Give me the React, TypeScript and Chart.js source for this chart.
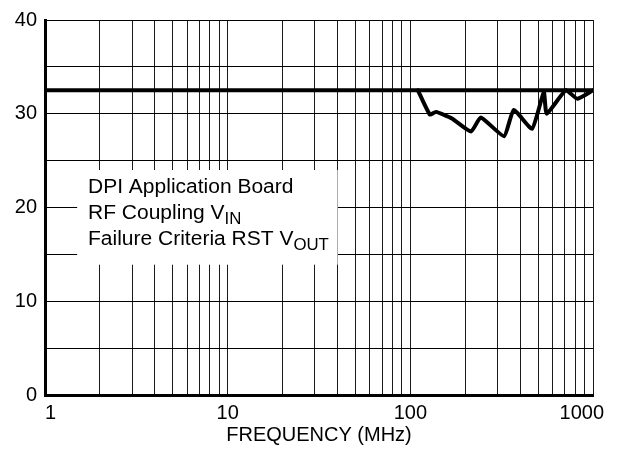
import React, { useEffect, useRef } from 'react';
import { Chart, registerables } from 'chart.js';

Chart.register(...registerables);

// ---- data ----
const limitFreqs = [1, 1000];
const limitLevels = [32.5, 32.5];

const curveFreqs = [110, 128, 138, 169, 215, 243, 326, 368, 464, 538, 558, 710, 820, 1000];
const curveLevels = [32.5, 29.9, 30.2, 29.5, 28.1, 29.6, 27.6, 30.4, 28.4, 32.3, 30.0, 32.5, 31.6, 32.5];

const xGridValues = [
  1, 2, 3, 4, 5, 6, 7, 8, 9,
  10, 20, 30, 40, 50, 60, 70, 80, 90,
  100, 200, 300, 400, 500, 600, 700, 800, 900,
  1000,
];
const xTickLabels = ['1', '10', '100', '1000'];
const yTickLabels = ['0', '10', '20', '30', '40'];
const xTitle = 'FREQUENCY (MHz)';

const noteMain = ['DPI Application Board', 'RF Coupling V', 'Failure Criteria RST V'];
const noteSubs = ['', 'IN', 'OUT'];

const FONT = '"Liberation Sans", Arial, sans-serif';

const noteBoxPlugin = {
  id: 'noteBox',
  beforeDatasetsDraw(chart: any) {
    const { ctx, scales } = chart;
    const x = scales.x;
    const y = scales.y;
    const left = x.getPixelForValue(1.5);
    const right = x.getPixelForValue(40);
    const top = y.getPixelForValue(24.0);
    const bottom = y.getPixelForValue(13.9);
    ctx.save();
    ctx.fillStyle = '#ffffff';
    ctx.fillRect(left, top, right - left, bottom - top);
    ctx.fillStyle = '#000000';
    ctx.textBaseline = 'alphabetic';
    ctx.textAlign = 'left';
    const textX = x.getPixelForValue(1.72);
    const baseline0 = y.getPixelForValue(21.6);
    const lineGap = 26;
    const stretch = 1.05;
    noteMain.forEach((t, i) => {
      const by = baseline0 + i * lineGap;
      ctx.save();
      ctx.translate(textX, by);
      ctx.scale(stretch, 1);
      ctx.font = `20px ${FONT}`;
      ctx.fillText(t, 0, 0);
      const w = ctx.measureText(t).width;
      if (noteSubs[i]) {
        ctx.font = `16px ${FONT}`;
        ctx.fillText(noteSubs[i], w, 5);
      }
      ctx.restore();
    });
    ctx.restore();
  },
};

const xLabelPlugin = {
  id: 'xLabels',
  afterDraw(chart: any) {
    const { ctx, scales, width } = chart;
    const x = scales.x;
    ctx.save();
    ctx.font = `20px ${FONT}`;
    ctx.fillStyle = '#000000';
    ctx.textBaseline = 'alphabetic';
    ctx.textAlign = 'left';
    const minLeft = chart.chartArea.left;
    const maxRight = width - 15;
    xTickLabels.forEach((lbl) => {
      const px = x.getPixelForValue(Number(lbl));
      const w = ctx.measureText(lbl).width;
      let lx = px - w / 2;
      if (lx < minLeft) lx = minLeft;
      if (lx + w > maxRight) lx = maxRight - w;
      ctx.fillText(lbl, lx, x.top + 24);
    });
    ctx.restore();
  },
};

export default function App() {
  const canvasRef = useRef<HTMLCanvasElement | null>(null);

  useEffect(() => {
    if (!canvasRef.current) return;
    const chart = new Chart(canvasRef.current, {
      type: 'line',
      data: {
        datasets: [
          {
            label: 'Limit',
            data: limitFreqs.map((f, i) => ({ x: f, y: limitLevels[i] })),
            borderColor: '#000000',
            borderWidth: 4,
            pointRadius: 0,
            tension: 0,
          },
          {
            label: 'Failure level',
            data: curveFreqs.map((f, i) => ({ x: f, y: curveLevels[i] })),
            borderColor: '#000000',
            borderWidth: 4,
            pointRadius: 0,
            tension: 0.15,
            borderJoinStyle: 'round',
            borderCapStyle: 'round',
          },
        ],
      },
      options: {
        animation: false,
        responsive: true,
        maintainAspectRatio: false,
        layout: { padding: { top: 13, right: 26, left: 0, bottom: 0 } },
        plugins: {
          legend: { display: false },
          tooltip: { enabled: false },
        },
        scales: {
          x: {
            type: 'logarithmic',
            min: 1,
            max: 1000,
            afterBuildTicks: (scale: any) => {
              scale.ticks = xGridValues.map((v) => ({ value: v }));
            },
            afterFit: (scale: any) => {
              scale.height = 59;
            },
            grid: { color: '#1a1a1a', lineWidth: 1, drawTicks: false },
            border: { display: true, color: '#000000', width: 3 },
            ticks: { display: false },
            title: {
              display: true,
              text: xTitle,
              color: '#000000',
              font: { family: FONT, size: 20 },
              padding: { top: 0, bottom: 7 },
            },
          },
          y: {
            type: 'linear',
            min: 0,
            max: 40,
            afterFit: (scale: any) => {
              scale.width = 45;
            },
            grid: { color: '#000000', lineWidth: 1, drawTicks: false },
            border: { display: true, color: '#000000', width: 3 },
            ticks: {
              stepSize: 5,
              padding: 8,
              color: '#000000',
              font: { family: FONT, size: 20 },
              callback: (v: any) => (yTickLabels.includes(String(v)) ? String(v) : ''),
            },
          },
        },
      },
      plugins: [noteBoxPlugin, xLabelPlugin],
    } as any);
    return () => chart.destroy();
  }, []);

  return (
    <div style={{ position: 'absolute', left: 0, top: 0, width: 619, height: 454, background: '#fff' }}>
      <canvas ref={canvasRef} />
    </div>
  );
}
